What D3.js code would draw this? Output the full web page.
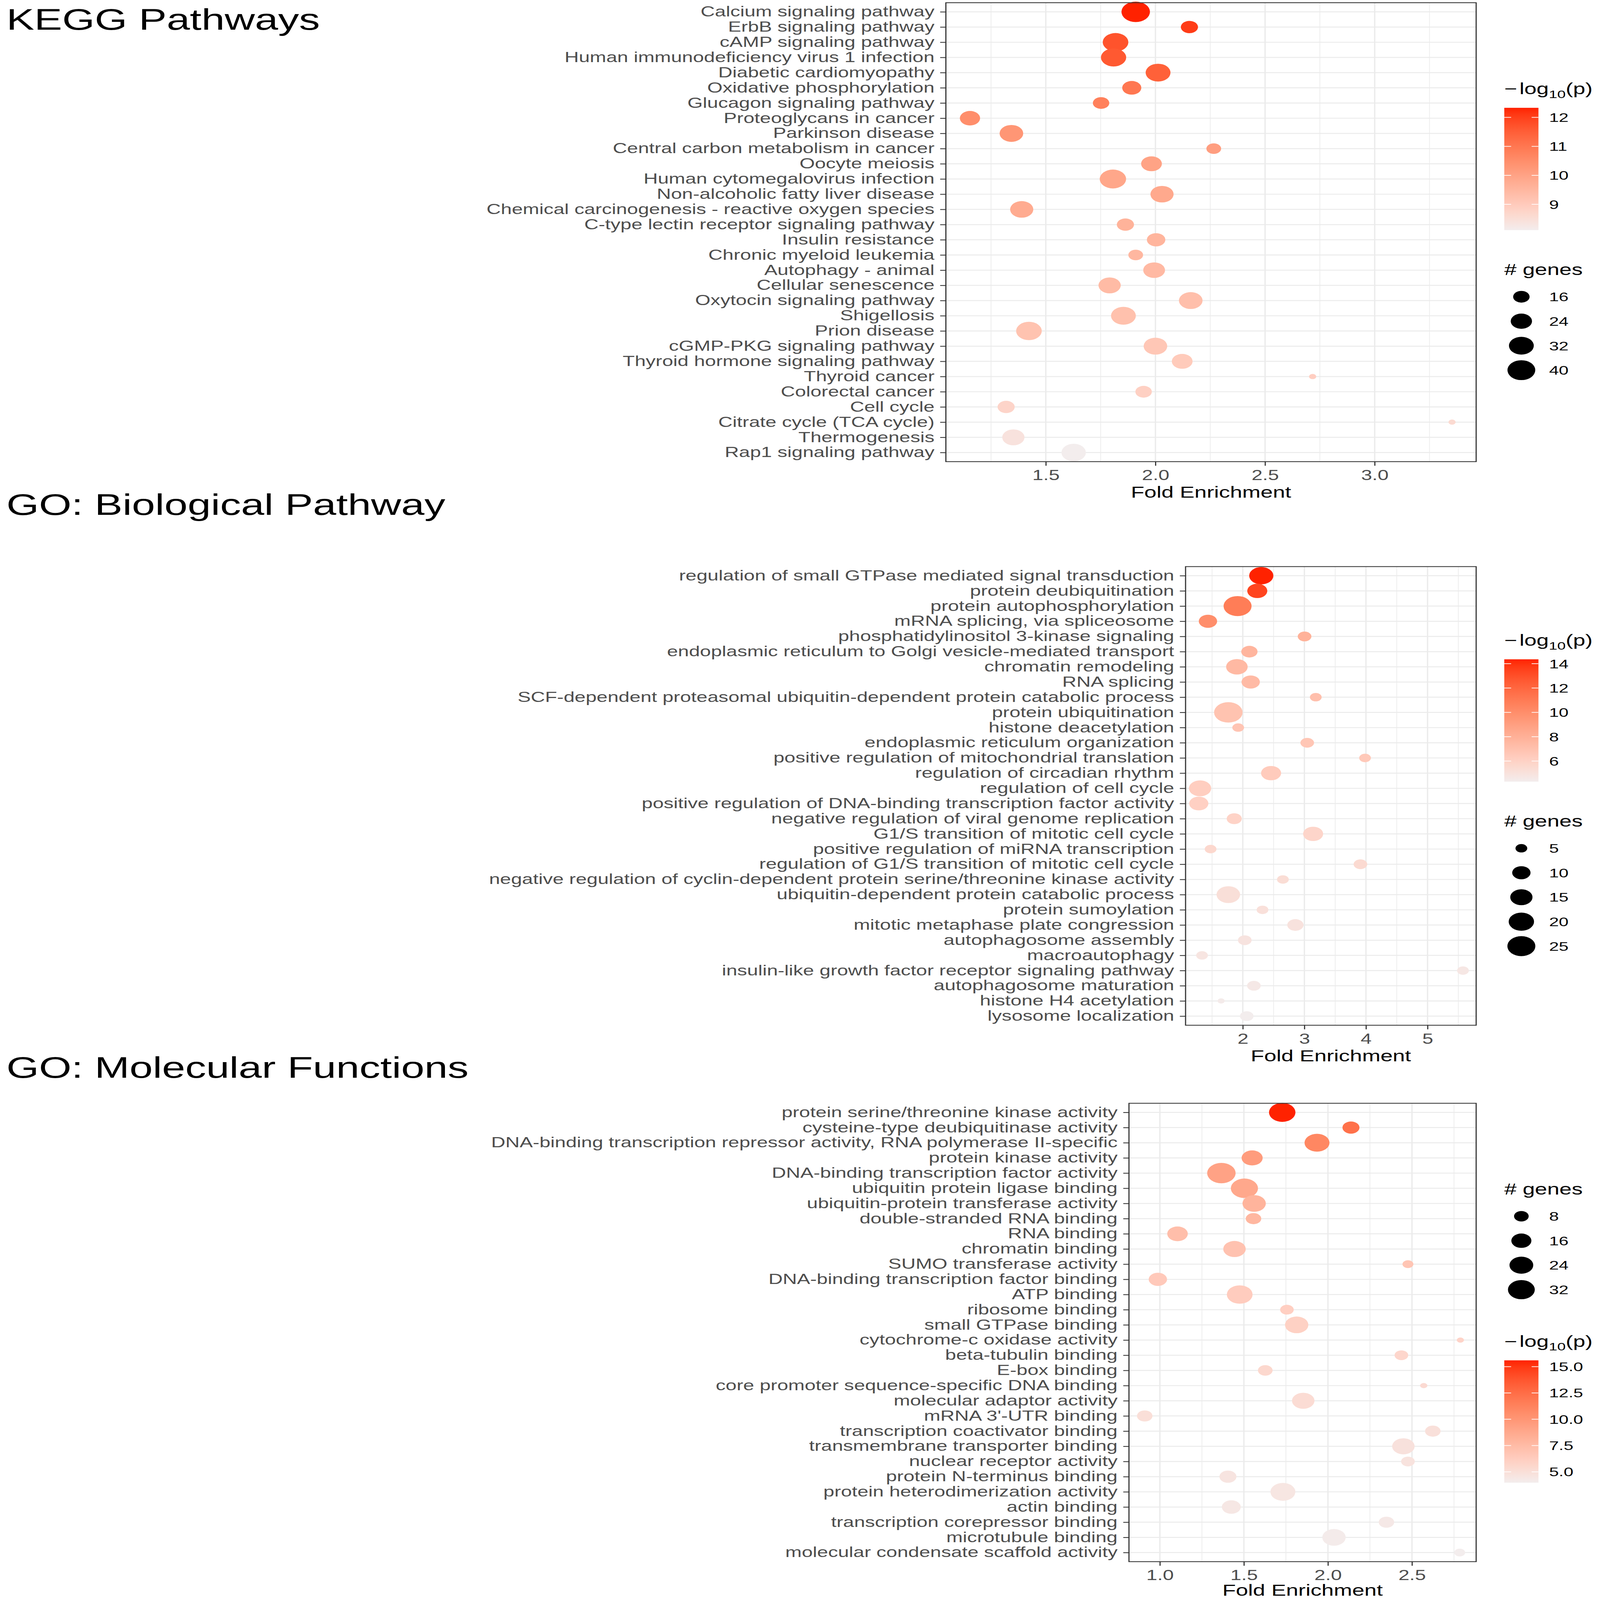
<!DOCTYPE html>
<html lang="en">
<head>
<meta charset="UTF-8">
<title>Enrichment dot plots</title>
<script src="https://d3js.org/d3.v7.min.js"></script>
<style>
  html, body { margin: 0; padding: 0; overflow: hidden; background: #fff; }
  svg { display: block; width: 100vw; height: 100vh; font-family: "Liberation Sans", Arial, Helvetica, sans-serif; }
</style>
</head>
<body>
<svg id="chart" viewBox="0 0 4212 5885" preserveAspectRatio="none"></svg>
<script>
// ---- KEGG Pathways ----
const keggTerms = ["Calcium signaling pathway", "ErbB signaling pathway", "cAMP signaling pathway",
  "Human immunodeficiency virus 1 infection", "Diabetic cardiomyopathy", "Oxidative phosphorylation",
  "Glucagon signaling pathway", "Proteoglycans in cancer", "Parkinson disease",
  "Central carbon metabolism in cancer", "Oocyte meiosis", "Human cytomegalovirus infection",
  "Non-alcoholic fatty liver disease", "Chemical carcinogenesis - reactive oxygen species",
  "C-type lectin receptor signaling pathway", "Insulin resistance", "Chronic myeloid leukemia",
  "Autophagy - animal", "Cellular senescence", "Oxytocin signaling pathway", "Shigellosis",
  "Prion disease", "cGMP-PKG signaling pathway", "Thyroid hormone signaling pathway",
  "Thyroid cancer", "Colorectal cancer", "Cell cycle", "Citrate cycle (TCA cycle)",
  "Thermogenesis", "Rap1 signaling pathway"];
const keggFold = [1.91, 2.155, 1.818, 1.809, 2.012, 1.892, 1.752, 1.154, 1.343, 2.266,
  1.982, 1.806, 2.03, 1.39, 1.863, 2.003, 1.91, 1.994, 1.791, 2.161,
  1.854, 1.423, 2.0, 2.122, 2.717, 1.946, 1.319, 3.353, 1.352, 1.627];
const keggGenes = [42, 17, 34, 33, 32, 20, 16, 22, 29, 14,
  23, 36, 28, 28, 17, 19, 14, 25, 26, 29,
  32, 34, 29, 23, 10, 16, 17, 10, 26, 31];
const keggLogP = [12.33, 12.05, 11.7, 11.6, 11.45, 11.0, 10.8, 10.5, 10.3, 10.1,
  10.0, 9.9, 9.85, 9.8, 9.6, 9.55, 9.5, 9.45, 9.4, 9.3,
  9.25, 9.2, 9.1, 9.0, 8.9, 8.85, 8.75, 8.6, 8.4, 8.11];
const keggXTicks = [1.5, 2.0, 2.5, 3.0];
const keggColorTicks = [9, 10, 11, 12];
const keggSizeTicks = [16, 24, 32, 40];

// ---- GO: Biological Pathway ----
const bpTerms = ["regulation of small GTPase mediated signal transduction", "protein deubiquitination",
  "protein autophosphorylation", "mRNA splicing, via spliceosome", "phosphatidylinositol 3-kinase signaling",
  "endoplasmic reticulum to Golgi vesicle-mediated transport", "chromatin remodeling", "RNA splicing",
  "SCF-dependent proteasomal ubiquitin-dependent protein catabolic process", "protein ubiquitination",
  "histone deacetylation", "endoplasmic reticulum organization",
  "positive regulation of mitochondrial translation", "regulation of circadian rhythm",
  "regulation of cell cycle", "positive regulation of DNA-binding transcription factor activity",
  "negative regulation of viral genome replication", "G1/S transition of mitotic cell cycle",
  "positive regulation of miRNA transcription", "regulation of G1/S transition of mitotic cell cycle",
  "negative regulation of cyclin-dependent protein serine/threonine kinase activity",
  "ubiquitin-dependent protein catabolic process", "protein sumoylation",
  "mitotic metaphase plate congression", "autophagosome assembly", "macroautophagy",
  "insulin-like growth factor receptor signaling pathway", "autophagosome maturation",
  "histone H4 acetylation", "lysosome localization"];
const bpFold = [2.30, 2.235, 1.915, 1.434, 3.003, 2.107, 1.904, 2.128, 3.185, 1.765,
  1.925, 3.046, 3.985, 2.459, 1.306, 1.285, 1.861, 3.142, 1.477, 3.91,
  2.651, 1.765, 2.32, 2.854, 2.032, 1.338, 5.575, 2.18, 1.648, 2.064];
const bpGenes = [18, 12, 25, 10, 6, 8, 14, 10, 5, 26,
  5, 6, 5, 12, 15, 11, 7, 12, 5, 6,
  5, 17, 5, 8, 6, 5, 5, 6, 4, 6];
const bpLogP = [14.36, 13.4, 10.9, 10.0, 7.9, 7.7, 7.5, 7.4, 7.1, 6.9,
  6.8, 6.7, 6.5, 6.4, 6.2, 6.1, 5.9, 5.8, 5.6, 5.5,
  5.3, 5.2, 5.1, 5.0, 4.9, 4.8, 4.7, 4.6, 4.45, 4.31];
const bpXTicks = [2, 3, 4, 5];
const bpColorTicks = [6, 8, 10, 12, 14];
const bpSizeTicks = [5, 10, 15, 20, 25];

// ---- GO: Molecular Functions ----
const mfTerms = ["protein serine/threonine kinase activity", "cysteine-type deubiquitinase activity",
  "DNA-binding transcription repressor activity, RNA polymerase II-specific", "protein kinase activity",
  "DNA-binding transcription factor activity", "ubiquitin protein ligase binding",
  "ubiquitin-protein transferase activity", "double-stranded RNA binding", "RNA binding",
  "chromatin binding", "SUMO transferase activity", "DNA-binding transcription factor binding",
  "ATP binding", "ribosome binding", "small GTPase binding", "cytochrome-c oxidase activity",
  "beta-tubulin binding", "E-box binding", "core promoter sequence-specific DNA binding",
  "molecular adaptor activity", "mRNA 3'-UTR binding", "transcription coactivator binding",
  "transmembrane transporter binding", "nuclear receptor activity", "protein N-terminus binding",
  "protein heterodimerization activity", "actin binding", "transcription corepressor binding",
  "microtubule binding", "molecular condensate scaffold activity"];
const mfFold = [1.728, 2.137, 1.935, 1.549, 1.366, 1.503, 1.561, 1.557, 1.105, 1.444,
  2.476, 0.988, 1.475, 1.756, 1.814, 2.788, 2.437, 1.627, 2.570, 1.853,
  0.910, 2.624, 2.449, 2.476, 1.405, 1.732, 1.425, 2.348, 2.036, 2.784];
const mfGenes = [31, 11, 27, 18, 37, 33, 23, 9, 17, 21,
  5, 13, 29, 7, 23, 4, 7, 8, 4, 21,
  9, 9, 21, 7, 11, 27, 14, 9, 23, 5];
const mfLogP = [15.6, 12.3, 11.0, 9.6, 9.2, 8.8, 8.0, 7.8, 7.3, 7.0,
  6.8, 6.5, 6.3, 6.1, 6.0, 5.8, 5.6, 5.5, 5.3, 5.2,
  5.0, 4.9, 4.8, 4.7, 4.6, 4.5, 4.4, 4.3, 4.1, 3.97];
const mfXTicks = [1.0, 1.5, 2.0, 2.5];
const mfColorTicks = [5, 7.5, 10, 12.5, 15];
const mfSizeTicks = [8, 16, 24, 32];

// ---- shared styling ----
const LOW = "#F3EDED", HIGH = "#FF2200";
const R_MIN = 9.5, R_MAX = 37.5;
const AXIS_TEXT = 52, AXIS_TITLE = 58, LEG_TITLE = 58, LEG_TEXT = 46;
const LEG_X = 3960, BAR_W = 90, KEY_CX = 4005, LABEL_X = 4078;
const PAGE_H = 5885;

const svg = d3.select("#chart");
const defs = svg.append("defs");

function drawPanel(cfg, idx) {
  const { title, titleY, top, bottom, left, right, terms, fold, genes, logp,
          xTicks, xFmt, colorTicks, colorFmt, sizeTicks, legendOrder } = cfg;

  svg.append("text").attr("x", 17).attr("y", titleY)
    .attr("font-size", 110).attr("fill", "#000").text(title);

  const ext = d3.extent(fold);
  const pad = (ext[1] - ext[0]) * 0.05;
  const x = d3.scaleLinear().domain([ext[0] - pad, ext[1] + pad]).range([left, right]);
  const y = d3.scalePoint().domain(terms).range([top, bottom]).padding(0.6);
  const color = d3.scaleLinear().domain(d3.extent(logp)).range([LOW, HIGH]).interpolate(d3.interpolateLab);
  const t = d3.scaleLinear().domain(d3.extent(genes)).range([0, 1]);
  const size = v => R_MIN + (R_MAX - R_MIN) * Math.sqrt(Math.max(0, t(v)));

  const g = svg.append("g");
  g.append("rect").attr("x", left).attr("y", top).attr("width", right - left)
    .attr("height", bottom - top).attr("fill", "#fff");

  // minor grid: midpoints between major ticks, extended one step each side
  const step = xTicks[1] - xTicks[0];
  const minor = d3.range(xTicks[0] - step / 2, xTicks[xTicks.length - 1] + step, step)
    .filter(v => v > x.domain()[0] && v < x.domain()[1]);
  g.selectAll(".minor").data(minor).join("line")
    .attr("x1", d => x(d)).attr("x2", d => x(d)).attr("y1", top).attr("y2", bottom)
    .attr("stroke", "#EBEBEB").attr("stroke-width", 1.8);
  g.selectAll(".vmajor").data(xTicks).join("line")
    .attr("x1", d => x(d)).attr("x2", d => x(d)).attr("y1", top).attr("y2", bottom)
    .attr("stroke", "#EBEBEB").attr("stroke-width", 3.5);
  g.selectAll(".hmajor").data(terms).join("line")
    .attr("x1", left).attr("x2", right).attr("y1", d => y(d)).attr("y2", d => y(d))
    .attr("stroke", "#EBEBEB").attr("stroke-width", 3.5);

  // points, drawn top row first
  g.selectAll(".pt").data(terms).join("circle")
    .attr("cx", (d, i) => x(fold[i])).attr("cy", d => y(d))
    .attr("r", (d, i) => size(genes[i]))
    .attr("fill", (d, i) => color(logp[i]));

  g.append("rect").attr("x", left).attr("y", top).attr("width", right - left)
    .attr("height", bottom - top).attr("fill", "none").attr("stroke", "#333").attr("stroke-width", 3);

  // axes
  const yAxis = g.append("g").attr("transform", `translate(${left},0)`)
    .call(d3.axisLeft(y).tickSize(15).tickPadding(15));
  const xAxis = g.append("g").attr("transform", `translate(0,${bottom})`)
    .call(d3.axisBottom(x).tickValues(xTicks).tickFormat(d3.format(xFmt)).tickSize(15).tickPadding(16));
  [yAxis, xAxis].forEach(a => {
    a.select(".domain").remove();
    a.selectAll(".tick line").attr("stroke", "#333").attr("stroke-width", 3);
    a.selectAll(".tick text").attr("font-size", AXIS_TEXT).attr("fill", "#4D4D4D")
      .attr("font-family", "'Liberation Sans', Arial, Helvetica, sans-serif");
  });
  g.append("text").attr("x", (left + right) / 2).attr("y", Math.min(bottom + 133, PAGE_H - 16))
    .attr("text-anchor", "middle").attr("font-size", AXIS_TITLE).attr("fill", "#000")
    .text("Fold Enrichment");

  // legends, vertically centred on the panel
  const colorH = 545, gap = 120;
  const sizeH = 45 + 80 + (sizeTicks.length - 1) * 90 + 45;
  const total = colorH + gap + sizeH;
  let y0 = (top + bottom) / 2 - total / 2;
  const lg = svg.append("g");

  legendOrder.forEach(kind => {
    if (kind === "color") {
      const tt = lg.append("text").attr("x", LEG_X).attr("y", y0 + 45).attr("font-size", LEG_TITLE).attr("fill", "#000");
      tt.append("tspan").text("\u2212");
      tt.append("tspan").attr("dx", 6).text("log");
      tt.append("tspan").attr("font-size", 40).attr("dy", 14).text("10");
      tt.append("tspan").attr("font-size", LEG_TITLE).attr("dy", -14).text("(p)");

      const barTop = y0 + 95, barBot = y0 + 545;
      const gid = "grad" + idx;
      const grad = defs.append("linearGradient").attr("id", gid)
        .attr("x1", 0).attr("x2", 0).attr("y1", 1).attr("y2", 0);
      const cd = color.domain();
      d3.range(0, 1.0001, 0.05).forEach(s => {
        grad.append("stop").attr("offset", s).attr("stop-color", color(cd[0] + s * (cd[1] - cd[0])));
      });
      lg.append("rect").attr("x", LEG_X).attr("y", barTop).attr("width", BAR_W)
        .attr("height", barBot - barTop).attr("fill", `url(#${gid})`);
      const cy = d3.scaleLinear().domain(cd).range([barBot, barTop]);
      const ticks = lg.selectAll(null).data(colorTicks).join("g")
        .attr("transform", d => `translate(0,${cy(d)})`);
      ticks.append("line").attr("x1", LEG_X).attr("x2", LEG_X + 18).attr("stroke", "#fff").attr("stroke-width", 2.5);
      ticks.append("line").attr("x1", LEG_X + BAR_W - 18).attr("x2", LEG_X + BAR_W).attr("stroke", "#fff").attr("stroke-width", 2.5);
      ticks.append("text").attr("x", LABEL_X).attr("dy", "0.36em").attr("font-size", LEG_TEXT)
        .attr("fill", "#000").text(d3.format(colorFmt));
      y0 += colorH + gap;
    } else {
      lg.append("text").attr("x", LEG_X).attr("y", y0 + 45).attr("font-size", LEG_TITLE)
        .attr("fill", "#000").text("# genes");
      const keys = lg.selectAll(null).data(sizeTicks).join("g")
        .attr("transform", (d, i) => `translate(0,${y0 + 125 + i * 90})`);
      keys.append("circle").attr("cx", KEY_CX).attr("r", d => size(d)).attr("fill", "#000");
      keys.append("text").attr("x", LABEL_X).attr("dy", "0.36em").attr("font-size", LEG_TEXT)
        .attr("fill", "#000").text(d => d);
      y0 += sizeH + gap;
    }
  });
}

const panels = [
  { title: "KEGG Pathways", titleY: 109, top: 10, bottom: 1698, left: 2490, right: 3886,
    terms: keggTerms, fold: keggFold, genes: keggGenes, logp: keggLogP,
    xTicks: keggXTicks, xFmt: ".1f", colorTicks: keggColorTicks, colorFmt: "d",
    sizeTicks: keggSizeTicks, legendOrder: ["color", "size"] },
  { title: "GO: Biological Pathway", titleY: 1894, top: 2084, bottom: 3771, left: 3121, right: 3886,
    terms: bpTerms, fold: bpFold, genes: bpGenes, logp: bpLogP,
    xTicks: bpXTicks, xFmt: "d", colorTicks: bpColorTicks, colorFmt: "d",
    sizeTicks: bpSizeTicks, legendOrder: ["color", "size"] },
  { title: "GO: Molecular Functions", titleY: 3964, top: 4058, bottom: 5744, left: 2972, right: 3886,
    terms: mfTerms, fold: mfFold, genes: mfGenes, logp: mfLogP,
    xTicks: mfXTicks, xFmt: ".1f", colorTicks: mfColorTicks, colorFmt: ".1f",
    sizeTicks: mfSizeTicks, legendOrder: ["size", "color"] }
];
panels.forEach(drawPanel);
</script>
</body>
</html>
